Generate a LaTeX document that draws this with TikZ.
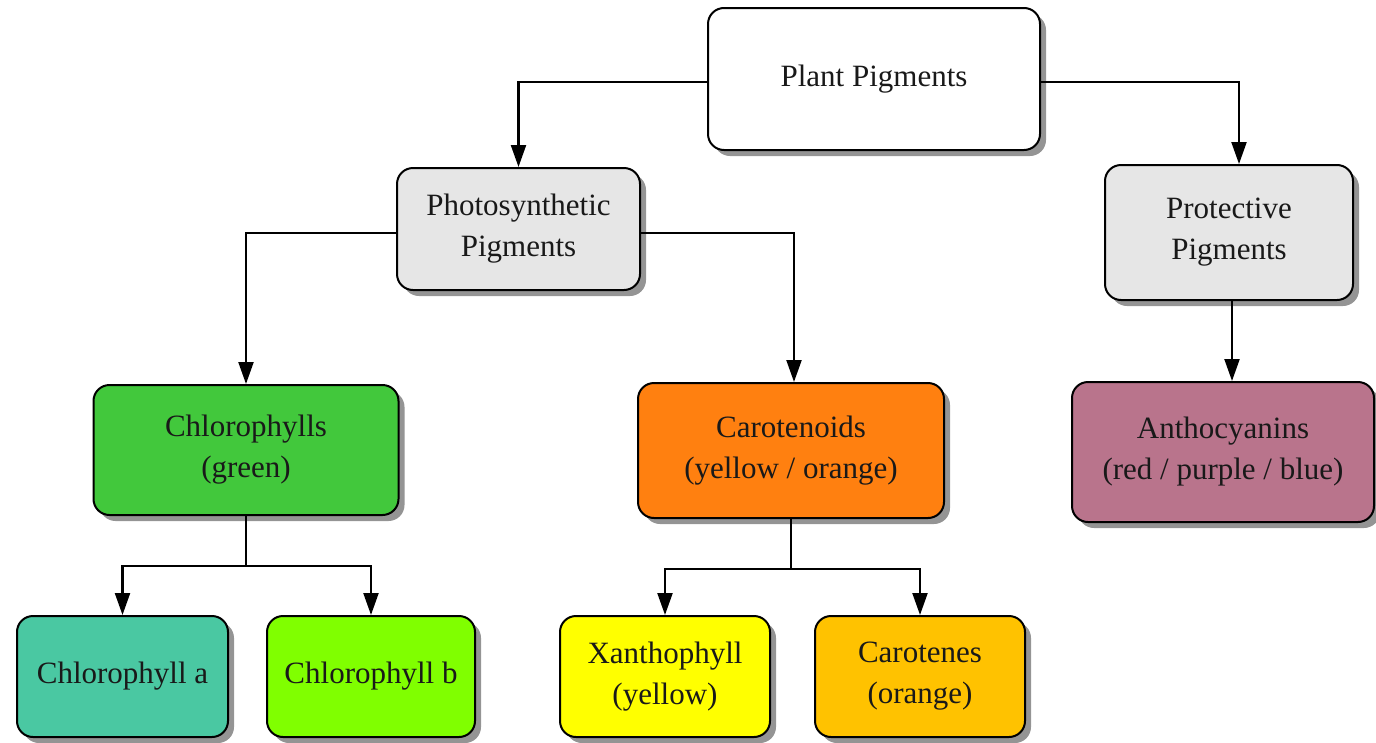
\documentclass[tikz,border=0pt]{standalone}
\usepackage{fontspec}
\setmainfont{Liberation Serif}
\usetikzlibrary{shadows,arrows.meta}
\definecolor{boxgray}{RGB}{230,230,230}
\definecolor{chlgreen}{RGB}{66,200,60}
\definecolor{carorange}{RGB}{255,128,16}
\definecolor{anthomauve}{RGB}{185,116,140}
\definecolor{chlateal}{RGB}{74,200,162}
\definecolor{chlbgreen}{RGB}{128,255,0}
\definecolor{xanyellow}{RGB}{255,255,0}
\definecolor{carotgold}{RGB}{255,194,0}
\tikzset{
  pbox/.style={draw=black, line width=2pt, rounded corners=16pt, align=center,
    font=\fontsize{31}{41}\selectfont, text=black!90,
    drop shadow={shadow xshift=6pt, shadow yshift=-6pt, fill=black!42, opacity=1}},
  arr/.style={line width=2.2pt, -{Triangle[length=22pt,width=15pt]}},
  ln/.style={line width=2.2pt}
}
\begin{document}
\begin{tikzpicture}[x=1pt,y=-1pt]
\useasboundingbox (0,0) rectangle (1376,742);
\node[pbox, fill=white, minimum width=332pt, minimum height=142pt] (plant) at (874,79) {Plant Pigments};
\node[pbox, fill=boxgray, minimum width=243pt, minimum height=122pt] (photo) at (518.5,229) {Photosynthetic\\Pigments};
\node[pbox, fill=boxgray, minimum width=248pt, minimum height=135pt] (prot) at (1229,232.5) {Protective\\Pigments};
\node[pbox, fill=chlgreen, minimum width=305pt, minimum height=130pt] (chl) at (246,450) {Chlorophylls\\(green)};
\node[pbox, fill=carorange, minimum width=306pt, minimum height=135pt] (car) at (791,450.5) {Carotenoids\\(yellow / orange)};
\node[pbox, fill=anthomauve, minimum width=302pt, minimum height=140pt] (antho) at (1223,452) {Anthocyanins\\(red / purple / blue)};
\node[pbox, fill=chlateal, minimum width=211pt, minimum height=121pt] (cha) at (122.5,676.5) {Chlorophyll a};
\node[pbox, fill=chlbgreen, minimum width=208pt, minimum height=121pt] (chb) at (371,676.5) {Chlorophyll b};
\node[pbox, fill=xanyellow, minimum width=210pt, minimum height=121pt] (xan) at (665,676.5) {Xanthophyll\\(yellow)};
\node[pbox, fill=carotgold, minimum width=210pt, minimum height=121pt] (carot) at (920,676.5) {Carotenes\\(orange)};
% connectors
\draw[arr] ([yshift=-3pt]plant.west) -| (photo.north);
\draw[arr] ([yshift=-3pt]plant.east) -| ([xshift=10pt]prot.north);
\draw[arr] ([yshift=-4pt]photo.west) -| (chl.north);
\draw[arr] ([yshift=-4pt]photo.east) -| ([xshift=3pt]car.north);
\draw[arr] ([xshift=3pt]prot.south) -- ([xshift=3pt]prot.south |- antho.north);
\draw[ln] (chl.south) -- ++(0,50) coordinate (chlj);
\draw[arr] (chlj) -| (cha.north);
\draw[arr] (chlj) -| (chb.north);
\draw[ln] (car.south) -- ++(0,50) coordinate (carj);
\draw[arr] (carj) -| (xan.north);
\draw[arr] (carj) -| (carot.north);
\end{tikzpicture}
\end{document}
